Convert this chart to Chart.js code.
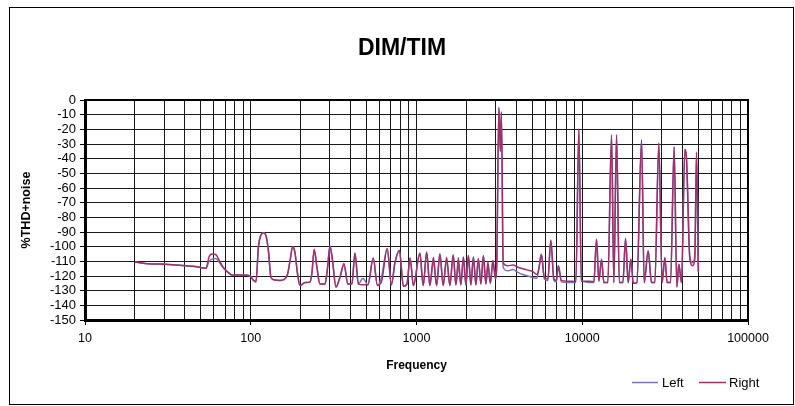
<!DOCTYPE html>
<html>
<head>
<meta charset="utf-8">
<script src="https://cdn.jsdelivr.net/npm/chart.js@4.4.1/dist/chart.umd.min.js"></script>
<style>
  html, body { margin: 0; padding: 0; background: #fff; }
</style>
</head>
<body>
<canvas id="chart" width="795" height="406"></canvas>
<script>
const freq = [
  20.0, 21.5, 23.0, 26.4, 30.4, 35.4, 40.7, 46.1, 51.5, 53.7,
  56.0, 58.4, 61.7, 64.3, 68.0, 72.9, 78.1, 83.7, 91.0, 98.9,
  103.1, 107.5, 111.3, 115.2, 119.3, 123.5, 127.9, 132.4, 140, 150,
  158.6, 166.5, 172.4, 178.9, 184.8, 191.3, 198.1, 212.3, 227.6, 233.9,
  241.5, 250.7, 261.4, 280.3, 290.2, 300.5, 311.1, 326.6, 345.1, 364.9,
  385.7, 407.7, 425.1, 446.3, 475, 509.2, 548.2, 581.2, 614.4, 665.9,
  705.9, 740.9, 788.6, 833.7, 875.3, 915, 958, 1048, 1098, 1151,
  1204, 1265, 1322, 1384, 1449, 1519, 1590, 1665, 1729, 1789,
  1852, 1918, 1986, 2056, 2129, 2204, 2282, 2362, 2446, 2532,
  2622, 2696, 2791, 2890, 2992, 3045, 3141, 3207, 3252, 3334,
  3558, 3814, 4089, 4384, 4699, 5037, 5324, 5473, 5667, 5908,
  6201, 6465, 6741, 6979, 7176, 7482, 8076, 8657, 9151, 9539,
  9876, 10368, 11112, 11749, 12194, 12592, 13074, 13499, 14269, 15022,
  15510, 16103, 16742, 17580, 18252, 18924, 19648, 20339, 21355, 22798,
  23637, 24983, 26183, 27410, 28974, 30334, 31497, 32522, 34093, 35839,
  37209, 38248, 39711, 41576, 42574, 44566, 46271, 47766, 48910, 50150
];

const right = [
  -110.5, -111, -111.5, -111.8, -112, -112.5, -113, -113.5, -114.5, -114.8,
  -107, -105, -105.5, -109, -114, -117.5, -119.5, -119.3, -119.3, -120,
  -122.5, -124, -100, -92, -90.5, -92.5, -103, -121, -122.8, -123,
  -122.5, -119, -110, -100, -104, -118, -126.5, -124.5, -124, -118,
  -102, -114, -125.5, -125.5, -115, -99.5, -109, -127.5, -121, -111.5,
  -125.5, -125.5, -104.5, -125.5, -126, -126, -107.7, -126.5, -124, -101.5,
  -126, -111, -102.6, -127, -125.5, -107.8, -126.5, -104.5, -126.5, -103.8,
  -126.5, -107.2, -126.5, -105, -126.5, -107.2, -126.5, -105.6, -126, -107.5,
  -126, -107, -126, -106, -126, -107, -126, -108.3, -125.5, -106,
  -125.5, -110.5, -125, -109.5, -122, -112, -5, -35, -8, -111,
  -113, -112.5, -114, -115, -116, -117, -119, -115, -105.5, -121,
  -122, -95.5, -122, -123, -113, -123, -123.5, -123.5, -124, -20,
  -123.5, -123.5, -123.5, -124, -95, -123.5, -108.5, -124.5, -124.5, -24,
  -124.5, -24, -124.5, -124.5, -94.5, -124.5, -108.5, -125, -124.5, -27.5,
  -124.5, -103, -124.5, -124.5, -29.5, -124.5, -107.5, -124.5, -124.5, -32,
  -127.5, -112, -124.5, -34, -40, -108.5, -113, -108.5, -35.5, -117
];

const left = [
  -110.5, -111, -111.5, -111.8, -112, -112.5, -113, -113.5, -114.5, -114.8,
  -110, -108.5, -108, -110.5, -114, -117.5, -119.5, -119.3, -119.3, -120,
  -122.5, -124, -100, -92, -90.5, -92.5, -103, -121, -122.8, -123,
  -122.5, -119, -110, -100, -104, -118, -126.5, -124.5, -124, -118,
  -102, -114, -125.5, -125.5, -115, -99.5, -109, -127.5, -121, -112.5,
  -125.5, -125.5, -104.5, -125.5, -121.5, -126, -107.7, -126.5, -121, -101.5,
  -126, -111, -102.6, -127, -125.5, -107.8, -126.5, -104.5, -126.5, -103.8,
  -126.5, -110, -126.5, -105, -126.5, -109, -126.5, -105.6, -126, -113,
  -126, -107, -126, -106, -126, -107, -126, -108.3, -125.5, -106,
  -125.5, -113, -125, -109.5, -120, -116, -6, -35, -9, -114,
  -116.5, -115.5, -117.5, -119, -120, -121, -121.5, -115, -105, -122,
  -123, -96, -123, -124, -113, -124, -124.5, -124.5, -124.5, -20,
  -123, -124, -124.5, -124.5, -95, -123.5, -108.5, -124.5, -124.5, -23.5,
  -124.5, -23.5, -124.5, -124.5, -94.5, -124.5, -108.5, -125, -124.5, -27,
  -124.5, -103, -124.5, -124.5, -29.5, -124.5, -107.5, -124.5, -124.5, -32,
  -127.5, -112, -124.5, -33.5, -42, -106.5, -111, -106, -36, -117
];

const xTicks = [
  10, 20, 30, 40, 50, 60, 70, 80, 90,
  100, 200, 300, 400, 500, 600, 700, 800, 900,
  1000, 2000, 3000, 4000, 5000, 6000, 7000, 8000, 9000,
  10000, 20000, 30000, 40000, 50000, 60000, 70000, 80000, 90000,
  100000
];
const xLabels = [10, 100, 1000, 10000, 100000];

const FONT = "'Liberation Sans', Arial, sans-serif";
Chart.defaults.font.family = FONT;
Chart.defaults.color = '#000';

// frame, top/right plot border, title and legend
const decor = {
  id: 'decor',
  beforeDraw(chart) {
    const ctx = chart.ctx;
    ctx.save();
    ctx.fillStyle = '#fff';
    ctx.fillRect(0, 0, chart.width, chart.height);
    ctx.restore();
  },
  afterDraw(chart) {
    const ctx = chart.ctx;
    const a = chart.chartArea;
    ctx.save();
    ctx.strokeStyle = '#000';
    ctx.lineWidth = 1;
    ctx.strokeRect(9.5, 7.5, 784, 397);

    ctx.lineWidth = 2;
    ctx.beginPath();
    ctx.moveTo(a.left, a.top);
    ctx.lineTo(a.right, a.top);
    ctx.lineTo(a.right, a.bottom);
    ctx.stroke();

    ctx.fillStyle = '#000';
    ctx.font = 'bold 23px ' + FONT;
    ctx.textAlign = 'center';
    ctx.textBaseline = 'middle';
    ctx.fillText('DIM/TIM', 402, 49);

    ctx.font = '13px ' + FONT;
    ctx.textAlign = 'left';
    ctx.lineWidth = 1.5;
    ctx.strokeStyle = chart.data.datasets[1].borderColor;
    ctx.beginPath(); ctx.moveTo(632, 382.5); ctx.lineTo(658, 382.5); ctx.stroke();
    ctx.fillText('Left', 662, 383);
    ctx.strokeStyle = chart.data.datasets[0].borderColor;
    ctx.beginPath(); ctx.moveTo(699, 382.5); ctx.lineTo(726, 382.5); ctx.stroke();
    ctx.fillText('Right', 729, 383);
    ctx.restore();
  }
};

new Chart(document.getElementById('chart'), {
  type: 'line',
  data: {
    datasets: [
      {
        label: 'Right',
        data: freq.map((f, i) => ({ x: f, y: right[i] })),
        borderColor: '#a0306a',
        borderWidth: 1.5,
        pointRadius: 0,
        cubicInterpolationMode: 'monotone',
        order: 0
      },
      {
        label: 'Left',
        data: freq.map((f, i) => ({ x: f, y: left[i] })),
        borderColor: '#7474b8',
        borderWidth: 1.5,
        pointRadius: 0,
        cubicInterpolationMode: 'monotone',
        order: 1
      }
    ]
  },
  options: {
    responsive: false,
    animation: false,
    devicePixelRatio: 1,
    layout: { padding: { left: 0, right: 47, top: 100, bottom: 0 } },
    plugins: {
      legend: { display: false },
      title: { display: false },
      tooltip: { enabled: false }
    },
    scales: {
      x: {
        type: 'logarithmic',
        min: 10,
        max: 100000,
        afterBuildTicks: s => { s.ticks = xTicks.map(v => ({ value: v })); },
        afterFit: s => { s.height = 86; },
        ticks: {
          autoSkip: false,
          maxRotation: 0,
          padding: 6,
          font: { size: 12.5 },
          color: '#000',
          callback: v => (xLabels.includes(v) ? String(v) : '')
        },
        grid: {
          color: '#1a1a1a',
          lineWidth: 1,
          tickLength: 5,
          tickColor: c => (c.tick && xLabels.includes(c.tick.value) ? '#000' : 'rgba(0,0,0,0)')
        },
        border: { color: '#000', width: 3 },
        title: {
          display: true,
          text: 'Frequency',
          font: { size: 12, weight: 'bold' },
          color: '#000',
          padding: { top: 0, bottom: 33 }
        }
      },
      y: {
        min: -150,
        max: 0,
        afterFit: s => { s.width = 85; },
        ticks: { stepSize: 10, autoSkip: false, padding: 4, font: { size: 13 }, color: '#000' },
        grid: { color: '#1a1a1a', lineWidth: 1, tickLength: 5, tickColor: '#000' },
        border: { color: '#000', width: 3 },
        title: {
          display: true,
          text: '%THD+noise',
          font: { size: 12.5, weight: 'bold' },
          color: '#000',
          padding: { top: 19, bottom: 0 }
        }
      }
    }
  },
  plugins: [decor]
});
</script>
</body>
</html>
